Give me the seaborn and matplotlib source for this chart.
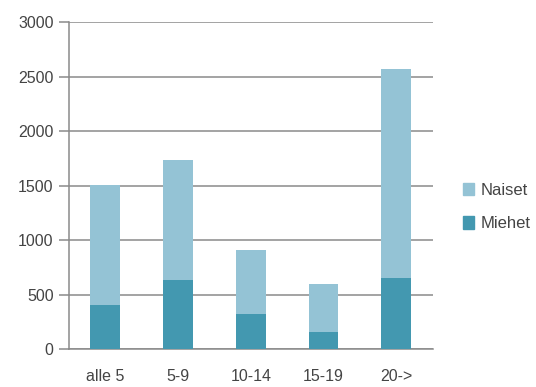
import numpy as np
import pandas as pd
import matplotlib.pyplot as plt
import seaborn as sns
from matplotlib.patches import Patch

sns.set_style("white")
plt.rcParams['font.family'] = ['Liberation Sans', 'DejaVu Sans']

# data
groups = ['alle 5', '5-9', '10-14', '15-19', '20->']
miehet = [407, 640, 327, 159, 655]
naiset = [1105, 1100, 588, 441, 1918]

c_naiset = '#94c3d5'
c_miehet = '#4398b0'
grey = '#8a8a8a'
txt = '#444444'

df = pd.DataFrame({'group': groups, 'Miehet': miehet, 'Naiset': naiset})
df['total'] = df['Miehet'] + df['Naiset']

fig = plt.figure(figsize=(5.36, 3.87), dpi=100)
ax = fig.add_axes([0.1287, 0.0974, 0.6783, 0.8446])

# stacked: total in light colour, men drawn over it
sns.barplot(data=df, x='group', y='total', color=c_naiset, saturation=1,
            width=0.41, ax=ax, zorder=3, linewidth=0)
sns.barplot(data=df, x='group', y='Miehet', color=c_miehet, saturation=1,
            width=0.41, ax=ax, zorder=4, linewidth=0)

ax.set_ylim(0, 3000)
ax.set_xlim(-0.5, 4.5)
ax.set_yticks(np.arange(0, 3001, 500))
ax.yaxis.grid(True, color=grey, linewidth=1.1, zorder=1)
ax.set_axisbelow(True)
ax.set_xlabel('')
ax.set_ylabel('')

for s in ['top', 'right']:
    ax.spines[s].set_visible(False)
for s in ['left', 'bottom']:
    ax.spines[s].set_color(grey)
    ax.spines[s].set_linewidth(1.1)

# category boundary ticks on x, label ticks hidden
ax.set_xticks(np.arange(-0.5, 4.6, 1), minor=True)
ax.tick_params(axis='x', which='minor', length=5, width=1.1, color=grey, direction='out')
ax.tick_params(axis='x', which='major', length=0, pad=14, labelsize=11.5, labelcolor=txt)
ax.tick_params(axis='y', length=7, width=1.1, color=grey, direction='out', pad=4,
               labelsize=11.5, labelcolor=txt, left=True)

handles = [Patch(color=c_naiset, label='Naiset'), Patch(color=c_miehet, label='Miehet')]
leg = fig.legend(handles=handles, loc='center left', bbox_to_anchor=(0.836, 0.465),
                 frameon=False, fontsize=12, handlelength=0.65, handleheight=0.75,
                 handletextpad=0.4, labelspacing=1.1)
for t in leg.get_texts():
    t.set_color(txt)

fig.savefig('out.png', dpi=100)
